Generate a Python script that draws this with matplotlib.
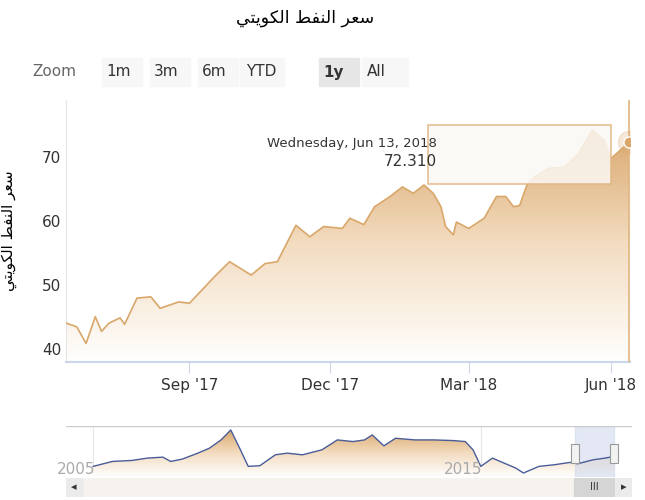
import matplotlib
matplotlib.use("Agg")
import matplotlib.pyplot as plt
import matplotlib.dates as mdates
import numpy as np
import pandas as pd
from matplotlib.patches import Rectangle, Polygon
from matplotlib.colors import LinearSegmentedColormap

dates = ["2017-06-13","2017-06-20","2017-06-26","2017-07-02","2017-07-06","2017-07-11","2017-07-18","2017-07-21",
         "2017-07-29","2017-08-07","2017-08-13","2017-08-25","2017-09-01","2017-09-12","2017-09-17","2017-09-27",
         "2017-10-11","2017-10-20","2017-10-28","2017-11-09","2017-11-18","2017-11-27","2017-12-09","2017-12-14",
         "2017-12-23","2017-12-30","2018-01-09","2018-01-17","2018-01-24","2018-01-31","2018-02-06","2018-02-11",
         "2018-02-14","2018-02-19","2018-02-21","2018-03-01","2018-03-11","2018-03-19","2018-03-25","2018-03-30",
         "2018-04-03","2018-04-08","2018-04-13","2018-04-22","2018-05-02","2018-05-11","2018-05-20","2018-05-28",
         "2018-06-01","2018-06-13"]
prices = [44.0,43.4,40.8,45.0,42.7,44.0,44.8,43.8,47.9,48.1,46.3,47.3,47.1,49.9,51.2,53.6,
          51.5,53.3,53.6,59.3,57.5,59.1,58.8,60.4,59.4,62.2,63.8,65.3,64.3,65.6,64.3,62.2,
          59.1,57.8,59.8,58.8,60.4,63.8,63.8,62.2,62.4,65.8,66.9,68.2,68.4,70.5,74.2,72.6,
          69.7,72.31]
nav_years = [2005.0,2005.5,2006.0,2006.4,2006.8,2007.0,2007.3,2007.7,2008.0,2008.3,2008.55,2008.8,2009.0,
             2009.3,2009.7,2010.0,2010.4,2010.9,2011.3,2011.7,2012.0,2012.2,2012.5,2012.8,2013.3,2013.8,
             2014.3,2014.6,2014.8,2015.0,2015.3,2015.6,2015.9,2016.1,2016.5,2016.9,2017.3,2017.5,2017.9,
             2018.2,2018.43]
nav_values = [44.2,55.9,58.2,63.7,66.0,55.9,61.4,75.4,87.1,106.6,130.0,83.2,44.2,
              45.8,71.5,75.4,71.5,83.2,106.6,102.7,106.6,118.3,92.6,110.5,106.6,106.6,
              105.0,102.7,83.2,44.2,63.7,52.0,40.3,28.6,44.2,48.1,53.6,50.4,59.8,
              63.7,67.6]
xtick_labels = ["Sep '17","Dec '17","Mar '18","Jun '18"]
xtick_dates = ["2017-09-01","2017-12-01","2018-03-01","2018-06-01"]
nav_labels = [2005, 2015]
title = "\uFEF2\uFE98\uFEF3\uFEEE\uFEDC\uFEDF\uFE8D \uFEC2\uFED4\uFEE8\uFEDF\uFE8D \uFEAE\uFECC\uFEB3"

LINE = "#d9a76a"
x = mdates.date2num(pd.to_datetime(dates))
y = np.array(prices)

fig = plt.figure(figsize=(6.45, 5), dpi=100)
W, H = 645, 500
def fa(l, t, r, b):
    return fig.add_axes([l / W, 1 - b / H, (r - l) / W, (b - t) / H])

fig.text(305 / W, 1 - 18 / H, title, ha="center", va="center", fontsize=12.5, family=["DejaVu Sans"])

fig.text(32 / W, 1 - 72 / H, "Zoom", ha="left", va="center", fontsize=11, color="#666666")
for lbl, cx, w, sel in [("1m", 122, 40, False), ("3m", 170, 40, False), ("6m", 218, 40, False),
                         ("YTD", 262, 44, False), ("1y", 339, 40, True), ("All", 385, 46, False)]:
    fig.patches.append(Rectangle(((cx - w / 2) / W, 1 - 86 / H), w / W, 28 / H, transform=fig.transFigure,
                                 color="#e6e6e6" if sel else "#f7f7f7", zorder=0))
    fig.text((cx - 16) / W if lbl != "All" else (cx - 18) / W, 1 - 72 / H, lbl, ha="left", va="center",
             fontsize=11, color="#333333", fontweight="bold" if sel else "normal")

cm = LinearSegmentedColormap.from_list("g", ["#ffffff", "#f3dcc0", "#d9a66b"])
grad = np.linspace(0, 1, 256)[:, None]

ax = fa(66, 100, 630, 362)
x0 = mdates.date2num(pd.Timestamp("2017-06-13"))
x1 = mdates.date2num(pd.Timestamp("2018-06-13"))
ax.set_xlim(x0, x1 + 0.5)
YB, YT = 37.9, 78.9
ax.set_ylim(YB, YT)
ax.plot(x, y, color=LINE, lw=1.2, zorder=3)
poly = Polygon(np.column_stack([np.r_[x[0], x, x[-1]], np.r_[YB, y, YB]]), closed=True,
               facecolor="none", edgecolor="none")
ax.add_patch(poly)
im = ax.imshow(grad, extent=[x0, x1 + 0.5, YB, 75], origin="lower", aspect="auto", cmap=cm, zorder=2)
im.set_clip_path(poly)
ax.axvline(x1, color="#e0b581", lw=1.2, zorder=4)
ax.plot([x[-1]], [y[-1]], "o", ms=16, color=LINE, alpha=0.25, zorder=5)
ax.plot([x[-1]], [y[-1]], "o", ms=8, color=LINE, mec="white", mew=1, zorder=6)
for s in ["top", "right"]:
    ax.spines[s].set_visible(False)
ax.spines["left"].set_color("#e6e6e6")
ax.spines["bottom"].set_color("#ccd6eb")
ax.spines["bottom"].set_linewidth(1.5)
ax.set_yticks([40, 50, 60, 70])
ax.tick_params(axis="y", length=0, labelsize=11, colors="#333333")
ax.set_xticks(mdates.date2num(pd.to_datetime(xtick_dates)))
ax.set_xticklabels(xtick_labels)
ax.tick_params(axis="x", length=8, color="#ccd6eb", labelsize=11, labelcolor="#333333")
ax.set_ylabel(title, fontsize=11, family=["DejaVu Sans"], labelpad=18)

ax.add_patch(Rectangle((0.641, 0.68), 0.325, 0.225, transform=ax.transAxes, facecolor="#fbf8f4",
                       edgecolor="#e0b581", lw=1.2, alpha=0.85, zorder=7))
fig.text(437 / W, 1 - 143 / H, "Wednesday, Jun 13, 2018", ha="right", va="center", fontsize=9.5, color="#333333")
fig.text(437 / W, 1 - 161 / H, "72.310", ha="right", va="center", fontsize=11, color="#333333")

# navigator
nav = fa(66, 426, 632, 477)
nx = np.array(nav_years); ny = np.array(nav_values)
NB, NT = 19.2, 139.4
nav.set_xlim(2004.3, 2018.9)
nav.set_ylim(NB, NT)
nav.plot(nx, ny, color="#4a5d9a", lw=1, zorder=3)
npoly = Polygon(np.column_stack([np.r_[nx[0], nx, nx[-1]], np.r_[NB, ny, NB]]), closed=True, fc="none", ec="none")
nav.add_patch(npoly)
im2 = nav.imshow(grad, extent=[2004.3, 2018.9, NB, 130], origin="lower", aspect="auto", cmap=cm, zorder=1)
im2.set_clip_path(npoly)
nav.axvspan(2017.43, 2018.43, color="#ccd6eb", alpha=0.55, zorder=2)
for xv in nav_labels:
    nav.axvline(xv, color="#e6e6e6", lw=0.8, zorder=0)
    nav.text(xv + 0.05, 37, str(xv), ha="right", va="center", fontsize=11, color="#aaaaaa", zorder=5)
for xv in [2017.43, 2018.43]:
    nav.add_patch(Rectangle((xv - 0.1, 52), 0.2, 45, fc="#f2f2f2", ec="#999999", lw=0.8, zorder=6))
nav.set_xticks([]); nav.set_yticks([])
for s in nav.spines.values():
    s.set_visible(False)
nav.axhline(NT, color="#cccccc", lw=1)

sb = fa(66, 478, 632, 497)
sb.set_xlim(0, 566); sb.set_ylim(0, 1)
sb.add_patch(Rectangle((0, 0), 566, 1, color="#f6f2ee"))
sb.add_patch(Rectangle((0, 0), 16, 1, color="#ebebeb"))
sb.add_patch(Rectangle((550, 0), 16, 1, color="#ebebeb"))
sb.add_patch(Rectangle((508, 0), 40, 1, color="#d5d5d5"))
sb.text(8, 0.5, "\u25C2", ha="center", va="center", fontsize=8, color="#333333")
sb.text(558, 0.5, "\u25B8", ha="center", va="center", fontsize=8, color="#333333")
sb.text(528, 0.5, "III", ha="center", va="center", fontsize=7, color="#333333")
sb.set_xticks([]); sb.set_yticks([])
for s in sb.spines.values():
    s.set_visible(False)

fig.savefig("out.png", dpi=100)
